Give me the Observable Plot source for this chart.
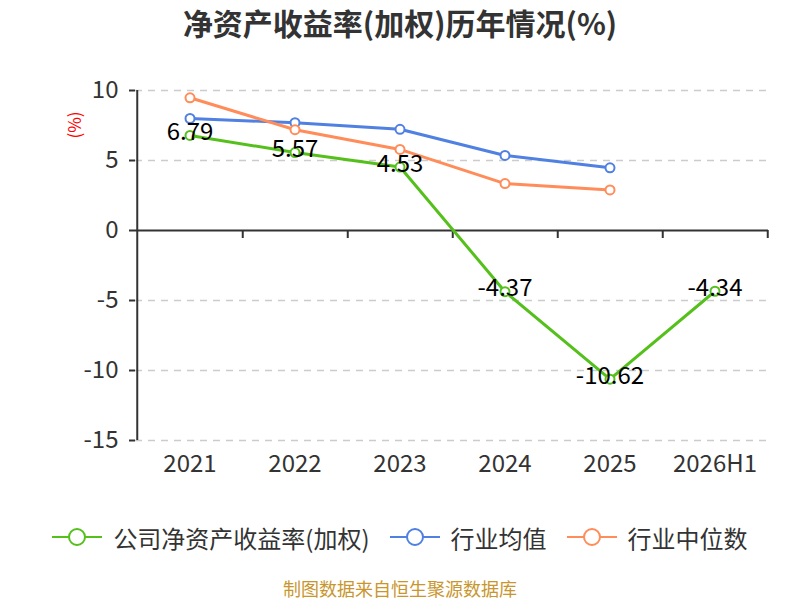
<!DOCTYPE html>
<html>
<head>
<meta charset="utf-8">
<script src="https://cdn.jsdelivr.net/npm/d3@7"></script>
<script src="https://cdn.jsdelivr.net/npm/@observablehq/plot@0.6"></script>
<style>
  body { margin: 0; width: 800px; height: 600px; background: #fff; font-family: "Noto Sans CJK SC", "Noto Sans", sans-serif; overflow: hidden; }
  #title { height: 50px; line-height: 44px; text-align: center; font-size: 30px; font-weight: bold; color: #333; padding-left: 0px; }
  #chart { height: 450px; position: relative; }
  #ylab { position: absolute; left: 73px; top: 75px; transform: translate(-50%, -50%) rotate(-90deg); color: red; font-size: 17px; white-space: nowrap; }
  #legend { height: 74px; display: flex; align-items: center; justify-content: center; font-size: 24px; color: #333; padding-left: 0px; }
  .item { display: flex; align-items: center; margin: 0 10px; }
  .item svg { margin-right: 11px; }
  #footer { text-align: center; font-size: 18px; color: #c9962e; line-height: 20px; margin-top: 4px; }
</style>
</head>
<body>
<div id="title">净资产收益率(加权)历年情况(%)</div>
<div id="chart"><div id="ylab">(%)</div></div>
<div id="legend"></div>
<div id="footer">制图数据来自恒生聚源数据库</div>
<script>
const years = ["2021", "2022", "2023", "2024", "2025", "2026H1"];
const companyROE = [6.79, 5.57, 4.53, -4.37, -10.62, -4.34];
const industryMean = [8.0, 7.7, 7.23, 5.36, 4.48, null];
const industryMedian = [9.48, 7.2, 5.79, 3.35, 2.9, null];
const yTicks = [-15, -10, -5, 0, 5, 10];
const seriesNames = ["公司净资产收益率(加权)", "行业均值", "行业中位数"];
const colors = ["#55c01c", "#4f80e2", "#ff8c59"];

const W = 800, H = 450, mL = 135, mR = 32, mT = 40, mB = 60;
const bw = (W - mL - mR) / years.length;
const pxPerUnit = (H - mT - mB) / (yTicks[yTicks.length - 1] - yTicks[0]);

const toRows = (vals) => years.map((y, i) => ({year: y, value: vals[i]})).filter(d => d.value != null);
const company = toRows(companyROE);
const mean = toRows(industryMean);
const median = toRows(industryMedian);

const lineFor = (rows, c) => [
  Plot.lineY(rows, {x: "year", y: "value", stroke: c, strokeWidth: 3}),
  Plot.dot(rows, {x: "year", y: "value", r: 4.5, fill: "white", stroke: c, strokeWidth: 2})
];

const chart = Plot.plot({
  width: W, height: H,
  marginLeft: mL, marginRight: mR, marginTop: mT, marginBottom: mB,
  style: {fontFamily: '"Noto Sans CJK SC", "Noto Sans", sans-serif', background: "transparent", overflow: "visible"},
  x: {type: "band", domain: years, padding: 0},
  y: {domain: [yTicks[0], yTicks[yTicks.length - 1]]},
  marks: [
    Plot.gridY({ticks: yTicks.filter(t => t !== 0), stroke: "#cccccc", strokeOpacity: 1, strokeWidth: 1.5, strokeDasharray: "7,6"}),
    Plot.axisY({ticks: yTicks, tickFormat: d => String(d), tickSize: 6, tickPadding: 11, fontSize: 24, color: "#333", strokeWidth: 2, label: null}),
    Plot.axisX({tickSize: 0, tickPadding: 14, fontSize: 24, color: "#333", label: null}),
    Plot.ruleY([0], {stroke: "#333", strokeWidth: 2}),
    Plot.ruleX([years[0]], {x: d => d, dx: -bw / 2, y1: yTicks[0], y2: yTicks[yTicks.length - 1], stroke: "#333", strokeWidth: 2}),
    Plot.ruleX(years, {x: d => d, dx: bw / 2, y1: 0, y2: -8 / pxPerUnit, stroke: "#333", strokeWidth: 2}),
    ...lineFor(mean, colors[1]),
    ...lineFor(median, colors[2]),
    ...lineFor(company, colors[0]),
    Plot.text(company, {x: "year", y: "value", text: d => d.value.toFixed(2), fontSize: 24, fill: "#000", dy: -3})
  ]
});
document.getElementById("chart").appendChild(chart);

const legend = document.getElementById("legend");
seriesNames.forEach((name, i) => {
  const item = document.createElement("div");
  item.className = "item";
  item.innerHTML = `<svg width="50" height="22"><line x1="0" y1="11" x2="50" y2="11" stroke="${colors[i]}" stroke-width="2"/><circle cx="25" cy="11" r="8" fill="white" stroke="${colors[i]}" stroke-width="2"/></svg><span>${name}</span>`;
  legend.appendChild(item);
});
</script>
</body>
</html>
